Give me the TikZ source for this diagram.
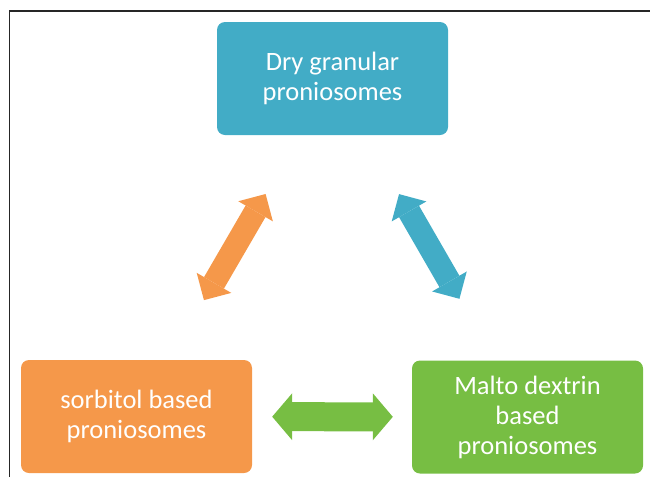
\documentclass[tikz,border=0pt]{standalone}
\usepackage{fontspec}
\setmainfont{Carlito}
\usepackage{tikz}
\usepackage{xcolor}
\usetikzlibrary{arrows.meta}

\definecolor{blueb}{HTML}{42ACC6}
\definecolor{orangeb}{HTML}{F5984A}
\definecolor{greenb}{HTML}{77BE43}

\tikzset{
  box/.style={rounded corners=8pt, minimum width=231pt, minimum height=113pt, inner sep=0pt, align=center, text=white, font=\fontsize{26.5}{30}\selectfont},
  dblarrow/.style={line width=23pt, {Triangle[width=40pt,length=20pt,line width=0pt]}-{Triangle[width=40pt,length=20pt,line width=0pt]}},
}

\begin{document}
\begin{tikzpicture}[x=1pt,y=-1pt]
\useasboundingbox (0,0) rectangle (650,477);
\draw[line width=1.2pt, black!85] (9.5,477) -- (9.5,11) -- (650,11);

\node[box, fill=blueb] (dry) at (332.5,78.5) {Dry granular\\proniosomes};
\node[box, fill=orangeb] (sorb) at (136.5,416.5) {sorbitol based\\proniosomes};
\node[box, fill=greenb] (malto) at (527.5,417) {Malto dextrin\\based\\proniosomes};


\draw[dblarrow, orangeb, shorten <=69pt, shorten >=68pt] (sorb) -- (dry);
\draw[dblarrow, blueb, shorten <=71pt, shorten >=68pt] (malto) -- (dry);
\draw[dblarrow, greenb, line width=29pt, {Triangle[width=47pt,length=20pt,line width=0pt]}-{Triangle[width=47pt,length=20pt,line width=0pt]}, shorten <=20pt, shorten >=19pt] (sorb) -- (malto);

\end{tikzpicture}
\end{document}
